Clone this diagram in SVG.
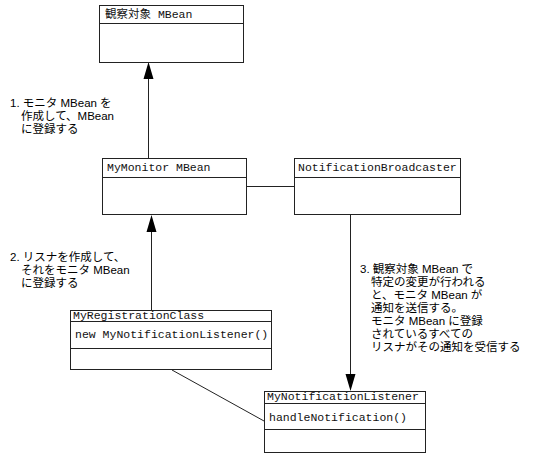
<svg xmlns="http://www.w3.org/2000/svg" width="543" height="466" viewBox="0 0 543 466">
<style>
.box{fill:#fff;stroke:#222;stroke-width:1}
.sep{stroke:#222;stroke-width:1}
.mono{font-family:"Liberation Mono","Noto Sans CJK JP",monospace;font-size:11.5px;fill:#111}
.lbl{font-family:"Liberation Sans","Noto Sans CJK JP",sans-serif;font-size:11.5px;fill:#000}
.con{stroke:#222;stroke-width:1;fill:none}
.head{fill:#000;stroke:none}
</style>
<rect width="543" height="466" fill="#fff"/>
<g id="connectors">
<line class="con" x1="148.5" y1="158" x2="148.5" y2="76"/>
<polygon class="head" points="148.5,62 143.5,79 153.5,79"/>
<line class="con" x1="151.5" y1="310" x2="151.5" y2="229"/>
<polygon class="head" points="151.5,215 146.5,232 156.5,232"/>
<line class="con" x1="350.5" y1="215" x2="350.5" y2="376"/>
<polygon class="head" points="350.5,391 345.5,374 355.5,374"/>
<line class="con" x1="247" y1="186.5" x2="294" y2="186.5"/>
<line class="con" x1="172" y1="370" x2="264" y2="421"/>
</g>
<g id="observed">
<rect class="box" x="99.5" y="5.5" width="144" height="57"/>
<line class="sep" x1="99.5" y1="23.5" x2="243.5" y2="23.5"/>
<text class="mono" x="105" y="18">観察対象 MBean</text>
</g>
<g id="monitor">
<rect class="box" x="102.5" y="158.5" width="144" height="56"/>
<line class="sep" x1="102.5" y1="177.5" x2="246.5" y2="177.5"/>
<text class="mono" x="107" y="171">MyMonitor MBean</text>
</g>
<g id="broadcaster">
<rect class="box" x="294.5" y="158.5" width="166" height="56"/>
<line class="sep" x1="294.5" y1="177.5" x2="460.5" y2="177.5"/>
<text class="mono" x="298" y="171">NotificationBroadcaster</text>
</g>
<g id="registration">
<rect class="box" x="70.5" y="310.5" width="201" height="59"/>
<line class="sep" x1="70.5" y1="321.5" x2="271.5" y2="321.5"/>
<line class="sep" x1="70.5" y1="348.5" x2="271.5" y2="348.5"/>
<text class="mono" x="73" y="319">MyRegistrationClass</text>
<text class="mono" x="75" y="338">new MyNotificationListener()</text>
</g>
<g id="listener">
<rect class="box" x="264.5" y="391.5" width="161" height="61"/>
<line class="sep" x1="264.5" y1="403.5" x2="425.5" y2="403.5"/>
<line class="sep" x1="264.5" y1="429.5" x2="425.5" y2="429.5"/>
<text class="mono" x="267" y="400">MyNotificationListener</text>
<text class="mono" x="269" y="421">handleNotification()</text>
</g>
<g id="label1">
<text class="lbl" x="10" y="107">1. モニタ MBean を</text>
<text class="lbl" x="21" y="120">作成して、MBean</text>
<text class="lbl" x="21" y="133">に登録する</text>
</g>
<g id="label2">
<text class="lbl" x="10" y="261">2. リスナを作成して、</text>
<text class="lbl" x="21" y="274">それをモニタ MBean</text>
<text class="lbl" x="21" y="287">に登録する</text>
</g>
<g id="label3">
<text class="lbl" x="360" y="273">3. 観察対象 MBean で</text>
<text class="lbl" x="371" y="286">特定の変更が行われる</text>
<text class="lbl" x="371" y="299">と、モニタ MBean が</text>
<text class="lbl" x="371" y="312">通知を送信する。</text>
<text class="lbl" x="371" y="325">モニタ MBean に登録</text>
<text class="lbl" x="371" y="338">されているすべての</text>
<text class="lbl" x="371" y="351">リスナがその通知を受信する</text>
</g>
</svg>
